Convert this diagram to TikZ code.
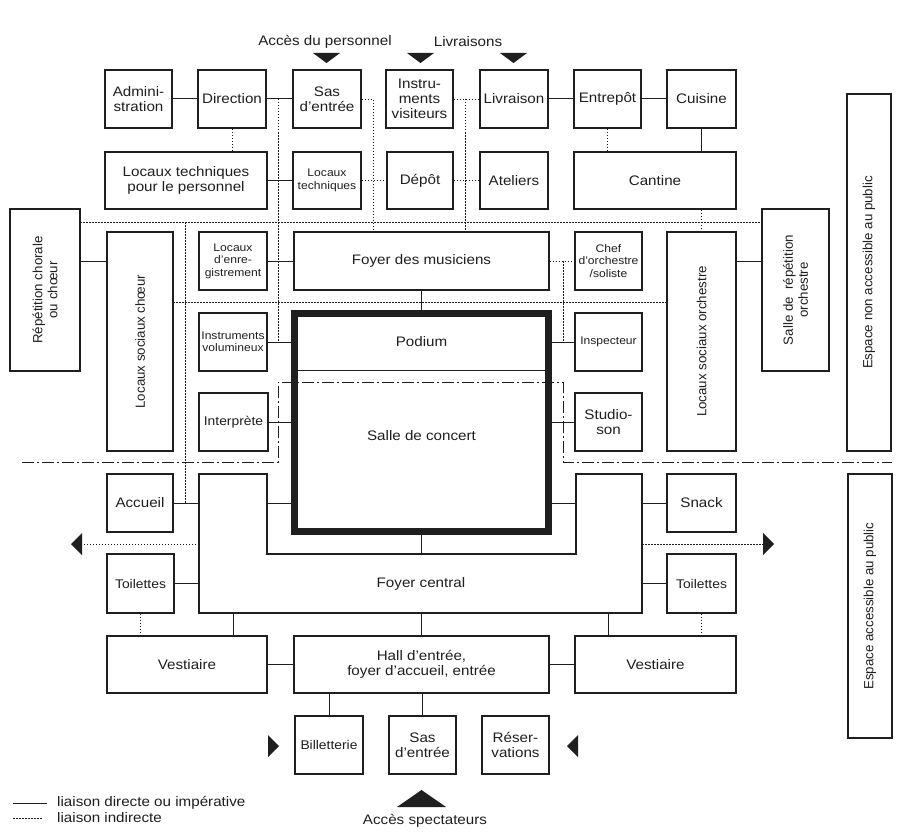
\documentclass[tikz,border=0pt]{standalone}
\usepackage{fontspec}
\setmainfont{Liberation Sans}[FakeStretch=1.1]
\newfontfamily\rotfont{Liberation Sans}
\usetikzlibrary{arrows.meta}
\definecolor{ink}{gray}{0.12}
\begin{document}
\begin{tikzpicture}[x=1pt,y=-1pt,
  box/.style={draw=ink, line width=1.1pt, rectangle, inner sep=0pt, align=center,
    text=ink, font=\fontsize{13.8}{15}\selectfont},
  sz/.style 2 args={minimum width=#1pt, minimum height=#2pt},
  small/.style={font=\fontsize{11}{12.5}\selectfont},
  mid/.style={font=\fontsize{12.6}{15}\selectfont},
  rot/.style={rotate=90, font=\rotfont\fontsize{13.3}{15}\selectfont},
  lbl/.style={inner sep=0pt, text=ink, font=\fontsize{13.8}{15}\selectfont, align=center},
  direct/.style={draw=ink, line width=1pt},
  indirect/.style={draw=ink, line width=0.9pt, dash pattern=on 1.5pt off 1.5pt},
  dashdot/.style={draw=ink, line width=1pt, dash pattern=on 12pt off 3pt on 2pt off 3pt},
  tri/.style={fill=ink}
]
\useasboundingbox (0,0) rectangle (899,832);
\fill[white] (0,0) rectangle (899,832);

% ---- top row
\node[box, sz={67}{58}] (adm) at (138.5,99) {Admini-\\stration};
\node[box, sz={68}{58}] (dir) at (232,99) {Direction};
\node[box, sz={68}{58}] (sas1) at (327,99) {Sas\\d'entrée};
\node[box, sz={67}{58}] (instv) at (419.5,99) {Instru-\\ments\\visiteurs};
\node[box, sz={68}{58}] (livr) at (514,99) {Livraison};
\node[box, sz={67}{58}] (entr) at (607.5,99) {Entrepôt};
\node[box, sz={69}{58}] (cuis) at (701.5,99) {Cuisine};

% ---- second row
\node[box, sz={162}{57}] (ltp) at (186,180.5) {Locaux techniques\\pour le personnel};
\node[box, small, sz={68}{57}] (ltech) at (327,180.5) {Locaux\\techniques};
\node[box, sz={66}{57}] (depot) at (420,180.5) {Dépôt};
\node[box, sz={68}{57}] (atel) at (514,180.5) {Ateliers};
\node[box, sz={162}{57}] (cant) at (655,180.5) {Cantine};

% ---- side blocks (rotated 90: node south = right side, node north = left side, node east = top)
\node[box, rot, sz={162}{70}] (repch) at (45,290) {Répétition chorale\\ou chœur};
\node[box, rot, sz={219}{66}] (lsc) at (140,341.5) {Locaux sociaux chœur};
\node[box, rot, sz={219}{69}] (lso) at (701.5,341.5) {Locaux sociaux orchestre};
\node[box, rot, sz={162}{67}] (srep) at (795.5,290) {Salle de \ répétition\\orchestre};
\node[box, rot, sz={357}{44}] (enap) at (869,272.5) {Espace non accessible au public};
\node[box, rot, sz={264}{44}] (eap) at (870,606) {Espace accessible au public};

% ---- middle columns
\node[box, small, sz={68}{58}] (lenr) at (233,261) {Locaux\\d'enre-\\gistrement};
\node[box, sz={255}{58}] (foyerm) at (421.5,261) {Foyer des musiciens};
\node[box, small, sz={67}{58}] (chef) at (608.5,261) {Chef\\d'orchestre\\/soliste};
\node[box, small, sz={68}{58}] (instvol) at (233,342) {Instruments\\volumineux};
\node[box, small, sz={67}{58}] (insp) at (608.5,342) {Inspecteur};
\node[box, mid, sz={69}{58}] (interp) at (233.5,422) {Interprète};
\node[box, sz={67}{58}] (studio) at (608.5,422) {Studio-\\son};

% ---- podium / salle
\node[lbl, minimum width=254pt, minimum height=56.5pt] (podium) at (421.5,341.75) {Podium};
\node[inner sep=0pt, minimum width=254pt, minimum height=161.5pt] (salle) at (421.5,450.75) {};
\node[lbl] (salleT) at (421.5,436) {Salle de concert};
\draw[direct] (podium.south west) -- (podium.south east);
\draw[dashdot] (22,462) -- (278,462) -- (278,382) -- (563,382) -- (563,462) -- (892,462);
\draw[draw=ink, line width=7pt, line join=miter] (podium.north west) rectangle (salle.south east);

% ---- public zone
\node[box, sz={66}{58}] (accueil) at (140,503) {Accueil};
\node[box, sz={69}{58}] (snack) at (701.5,503) {Snack};
\node[box, mid, sz={67}{59}] (toil1) at (140.5,583.5) {Toilettes};
\node[box, mid, sz={69}{59}] (toil2) at (701.5,583.5) {Toilettes};
\coordinate (fcTL) at (199,474);
\coordinate (fcA) at (267,474);
\coordinate (fcB) at (267,554);
\coordinate (fcC) at (576,554);
\coordinate (fcD) at (576,474);
\coordinate (fcTR) at (642,474);
\coordinate (fcBR) at (642,613);
\coordinate (fcBL) at (199,613);
\draw[draw=ink, line width=1.1pt] (fcTL) -- (fcA) -- (fcB) -- (fcC) -- (fcD) -- (fcTR) -- (fcBR) -- (fcBL) -- cycle;
\node[lbl] (fc) at (421,584) {Foyer central};

\node[box, sz={160}{57}] (vest1) at (187,664.5) {Vestiaire};
\node[box, sz={255}{57}] (hall) at (421.5,664.5) {Hall d'entrée,\\foyer d'accueil, entrée};
\node[box, sz={161}{57}] (vest2) at (655.5,664.5) {Vestiaire};
\node[box, mid, sz={68}{58}] (bill) at (329,745) {Billetterie};
\node[box, sz={67}{58}] (sas2) at (422.5,745) {Sas\\d'entrée};
\node[box, sz={67}{58}] (resv) at (515.5,745) {Réser-\\vations};

% ---- labels
\node[lbl] (accp) at (325,42) {Accès du personnel};
\node[lbl] (livs) at (468,42) {Livraisons};
\node[lbl] (accs) at (425,821) {Accès spectateurs};
\node[lbl, anchor=west] (leg1) at (57,803) {liaison directe ou impérative};
\node[lbl, anchor=west] (leg2) at (57,818) {liaison indirecte};
\coordinate (l1a) at (13,803); \coordinate (l1b) at (47,803);
\coordinate (l2a) at (13,818); \coordinate (l2b) at (43,818);
\draw[direct] (l1a) -- (l1b);
\draw[indirect] (l2a) -- (l2b);

% ---- access triangles
\fill[tri] (313,53) -- (340,53) -- (326.5,63) -- cycle;
\fill[tri] (407,53) -- (434,53) -- (420.5,63) -- cycle;
\fill[tri] (500,53) -- (527,53) -- (513.5,63) -- cycle;
\fill[tri] (268,735) -- (279,746) -- (268,757) -- cycle;
\fill[tri] (578,735) -- (567,746) -- (578,757) -- cycle;
\fill[tri] (421.5,790) -- (446,807) -- (397,807) -- cycle;
\coordinate (arL) at (82,544);
\coordinate (arR) at (763,544);
\draw[indirect] (arL -| fcTL) -- (arL);
\draw[indirect] (arR -| fcTR) -- (arR);
\fill[tri] (82,533) -- (71,544) -- (82,555) -- cycle;
\fill[tri] (763,533) -- (774,544) -- (763,555) -- cycle;

% ---- direct connectors
\draw[direct] (adm) -- (dir);
\draw[direct] (dir) -- (sas1);
\draw[direct] (livr) -- (entr);
\draw[direct] (entr) -- (cuis);
\draw[direct] (cuis.south) -- (cuis.south |- cant.north);
\draw[direct] (ltp) -- (ltech);
\draw[direct] (repch.south |- lenr) -- (lsc.north |- lenr);
\draw[direct] (lenr) -- (foyerm);
\draw[direct] (lso.south |- chef) -- (srep.north |- chef);
\draw[direct] (foyerm.south) -- (podium.north);
\draw[direct] (instvol.east) -- (instvol.east -| podium.west);
\draw[direct] (insp.west) -- (insp.west -| podium.east);
\draw[direct] (interp.east) -- (interp.east -| salle.west);
\draw[direct] (studio.west) -- (studio.west -| salle.east);
\draw[direct] (accueil.east) -- (accueil.east -| fcTL);
\draw[direct] (accueil.east -| fcA) -- (accueil.east -| salle.west);
\draw[direct] (snack.west -| salle.east) -- (snack.west -| fcD);
\draw[direct] (snack.west -| fcTR) -- (snack.west);
\draw[direct] (toil1.east) -- (toil1.east -| fcTL);
\draw[direct] (toil2.west -| fcTR) -- (toil2.west);
\draw[direct] (salle.south) -- (salle.south |- fcB);
\draw[direct] (instvol |- fcBL) -- (instvol |- vest1.north);
\draw[direct] (hall.north |- fcBL) -- (hall.north);
\draw[direct] (chef |- fcBL) -- (chef |- vest2.north);
\draw[direct] (vest1) -- (hall);
\draw[direct] (hall) -- (vest2);
\draw[direct] (bill.north) -- (bill.north |- hall.south);
\draw[direct] (sas2.north) -- (sas2.north |- hall.south);

% ---- indirect connectors
\coordinate (d1a) at (278,99);  \coordinate (d1b) at (278,342);
\coordinate (d2a) at (373,99);  \coordinate (d2b) at (373,232);
\coordinate (d3a) at (465,99);  \coordinate (d3b) at (465,232);
\coordinate (h1a) at (80,222);  \coordinate (h1b) at (762,222);
\coordinate (d4a) at (185,222); \coordinate (d4b) at (185,503);
\coordinate (h2a) at (173,302); \coordinate (h2b) at (667,302);
\coordinate (d5a) at (563,261); \coordinate (d5b) at (563,342);
\draw[indirect] (dir.south) -- (dir.south |- ltp.north);
\draw[indirect] (entr.south) -- (entr.south |- cant.north);
\draw[indirect] (ltech) -- (depot);
\draw[indirect] (depot) -- (atel);
\draw[indirect] (instv) -- (livr);
\draw[indirect] (sas1.east) -- (d2a) -- (d2b);
\draw[indirect] (d3a) -- (d3b);
\draw[indirect] (d1a) -- (d1b);
\draw[indirect] (h1a) -- (h1b);
\draw[indirect] (d4a) -- (d4b);
\draw[indirect] (h2a) -- (h2b);
\draw[indirect] (foyerm) -- (chef);
\draw[indirect] (d5a) -- (d5b);
\draw[indirect] (lso.east |- cant.south) -- (lso.east);
\draw[indirect] (toil1.south) -- (toil1.south |- vest1.north);
\draw[indirect] (toil2.south) -- (toil2.south |- vest2.north);
\end{tikzpicture}
\end{document}
